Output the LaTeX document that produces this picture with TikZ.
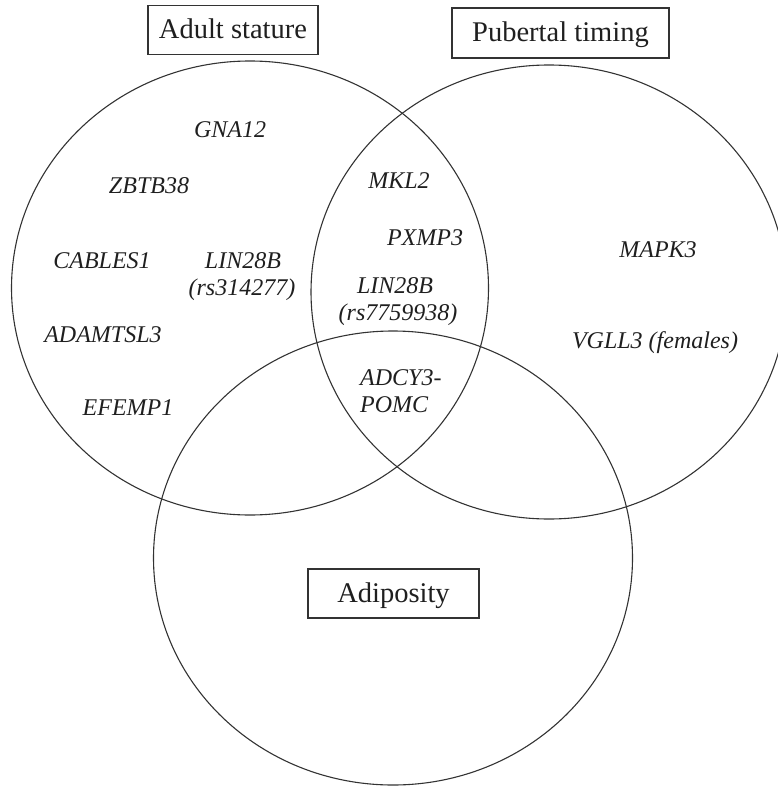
\documentclass[tikz,border=0pt]{standalone}
\usepackage{fontspec}
\setmainfont{Liberation Serif}
\begin{document}
\begin{tikzpicture}[x=1pt,y=-1pt,
  ring/.style={draw=black!80, line width=1.1pt},
  setbox/.style={draw=black!80, line width=1.1pt, inner sep=0pt,
    text height=17pt, text depth=0pt,
    font=\fontsize{28.5}{32}\selectfont, text=black!88},
  gene/.style={inner sep=0pt, anchor=base,
    font=\fontsize{24}{27}\selectfont\itshape, text=black!88}]
\useasboundingbox (0,0) rectangle (777,787);
% sets
\draw[ring] (250,288) ellipse [x radius=238.5pt, y radius=227pt];
\draw[ring] (549,292) ellipse [x radius=238pt, y radius=227pt];
\draw[ring] (393,558) ellipse [x radius=239.5pt, y radius=227pt];
% set labels
\node[setbox, minimum width=170pt, minimum height=49pt] (stature) at (233,30) {Adult stature};
\node[setbox, minimum width=217pt, minimum height=50pt] (puberty) at (560.5,33) {Pubertal timing};
\node[setbox, minimum width=171pt, minimum height=49pt] (adiposity) at (393.5,593.5) {Adiposity};
% adult stature only
\node[gene] (gna) at (230,137) {GNA12};
\node[gene] (zbtb) at (149,193) {ZBTB38};
\node[gene] (cables) at (102,268) {CABLES1};
\node[gene] (linA) at (243,268) {LIN28B};
\node[gene] (linArs) at (242,295) {(rs314277)};
\node[gene] (adamtsl) at (103,342) {ADAMTSL3};
\node[gene] (efemp) at (128,415) {EFEMP1};
% stature and puberty
\node[gene] (mkl) at (399,188) {MKL2};
\node[gene] (pxmp) at (425,245) {PXMP3};
\node[gene] (linB) at (395,293) {LIN28B};
\node[gene] (linBrs) at (398,320) {(rs7759938)};
% all three
\node[gene, anchor=base west] (adcy) at (360,385) {ADCY3-};
\node[gene, anchor=base west] (pomc) at (360,412) {POMC};
% puberty only
\node[gene] (mapk) at (658,257) {MAPK3};
\node[gene] (vgll) at (655,348) {VGLL3 (females)};
\end{tikzpicture}
\end{document}
